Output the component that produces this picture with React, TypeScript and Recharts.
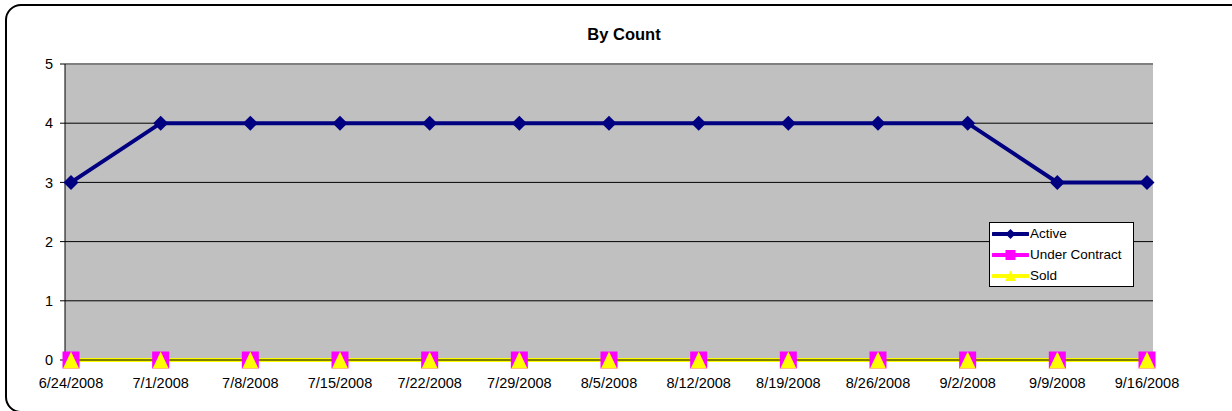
import React from 'react';
import {
  LineChart, Line, XAxis, YAxis, CartesianGrid, ReferenceLine,
} from 'recharts';

const dates = [
  '6/24/2008', '7/1/2008', '7/8/2008', '7/15/2008', '7/22/2008', '7/29/2008',
  '8/5/2008', '8/12/2008', '8/19/2008', '8/26/2008', '9/2/2008', '9/9/2008', '9/16/2008',
];
const active = [3, 4, 4, 4, 4, 4, 4, 4, 4, 4, 4, 3, 3];
const underContract = [0, 0, 0, 0, 0, 0, 0, 0, 0, 0, 0, 0, 0];
const sold = [0, 0, 0, 0, 0, 0, 0, 0, 0, 0, 0, 0, 0];
const yTicks = [0, 1, 2, 3, 4, 5];

const data = dates.map((d, i) => ({
  date: d,
  active: active[i],
  underContract: underContract[i],
  sold: sold[i],
}));

const FONT = '"Liberation Sans", Arial, sans-serif';

const Diamond = (props: any) => {
  const { cx, cy, fill } = props;
  if (cx == null || cy == null) return null;
  const r = 7.5;
  return <path d={`M${cx},${cy - r}L${cx + r},${cy}L${cx},${cy + r}L${cx - r},${cy}Z`} fill={fill} />;
};
const Square = (props: any) => {
  const { cx, cy, fill } = props;
  if (cx == null || cy == null) return null;
  const r = 8.5;
  return <rect x={cx - r} y={cy - r} width={2 * r} height={2 * r} fill={fill} />;
};
const Triangle = (props: any) => {
  const { cx, cy, fill } = props;
  if (cx == null || cy == null) return null;
  const r = 8.5;
  return <path d={`M${cx},${cy - r}L${cx + r - 0.5},${cy + r}L${cx - r + 0.5},${cy + r}Z`} fill={fill} />;
};

const legendItems = [
  { label: 'Active', color: '#000080', shape: 'diamond' },
  { label: 'Under Contract', color: '#FF00FF', shape: 'square' },
  { label: 'Sold', color: '#FFFF00', shape: 'triangle' },
];

const LegendBox = () => (
  <div
    style={{
      position: 'absolute', left: 989, top: 222,
      width: 143,
      height: 63,
      border: '1px solid #000',
      background: '#fff',
      fontFamily: FONT,
      fontSize: 13.5,
      color: '#000',
      boxSizing: 'content-box',
    }}
  >
    {legendItems.map((it) => (
      <div key={it.label} style={{ display: 'flex', alignItems: 'center', height: 21, marginLeft: 2 }}>
        <svg width={37} height={14} style={{ display: 'block' }}>
          <line x1={1} y1={7} x2={36} y2={7} stroke={it.color} strokeWidth={4} strokeLinecap="round" />
          {it.shape === 'diamond' && <path d="M18.5,2L23.5,7L18.5,12L13.5,7Z" fill={it.color} />}
          {it.shape === 'square' && <rect x={13.5} y={2} width={10} height={10} fill={it.color} />}
          {it.shape === 'triangle' && <path d="M18.5,1.5L24,12L13,12Z" fill={it.color} />}
        </svg>
        <span style={{ marginLeft: 1, lineHeight: '21px' }}>{it.label}</span>
      </div>
    ))}
  </div>
);

export default function App() {
  return (
    <div style={{ position: 'absolute', left: 0, top: 0, width: 1232, height: 411, overflow: 'hidden', background: '#fff' }}>
      <div
        style={{
          position: 'absolute', left: 5, top: 4, width: 1260, height: 409,
          border: '2px solid #000', borderRadius: 16, boxSizing: 'border-box',
        }}
      />
      <div
        style={{
          position: 'absolute', left: 0, width: 1248, top: 25, textAlign: 'center',
          fontFamily: FONT, fontWeight: 'bold', fontSize: 16.5, color: '#000',
        }}
      >
        By Count
      </div>
      <div style={{ position: 'absolute', left: 0, top: 0 }}>
        <LineChart
          width={1232}
          height={411}
          data={data}
          margin={{ top: 64, right: 79, bottom: 21, left: 0 }}
        >
          <CartesianGrid vertical={false} stroke="#000" strokeWidth={1} fill="#C0C0C0" fillOpacity={1} />
          <XAxis
            dataKey="date"
            padding={{ left: 6, right: 6 }}
            axisLine={{ stroke: '#000' }}
            tickLine={false}
            tickSize={6}
            tickMargin={12}
            height={30}
            interval={0}
            tick={{ fill: '#000', fontSize: 14.5, fontFamily: FONT }}
          />
          <YAxis
            domain={[0, 5]}
            ticks={yTicks}
            width={65}
            axisLine={{ stroke: '#000' }}
            tickLine={{ stroke: '#000' }}
            tickSize={5}
            tickMargin={7}
            tick={{ fill: '#000', fontSize: 14.5, fontFamily: FONT }}
          />
          <YAxis
            yAxisId="r"
            orientation="right"
            domain={[0, 5]}
            width={0}
            tick={false}
            tickLine={false}
            axisLine={{ stroke: '#808080', strokeWidth: 2 }}
          />
          <ReferenceLine y={5} stroke="#808080" strokeWidth={2} />
          <Line
            dataKey="sold"
            stroke="#FFFF00"
            strokeWidth={4}
            dot={false}
            isAnimationActive={false}
          />
          <Line
            dataKey="underContract"
            stroke="#FF00FF"
            strokeWidth={4}
            dot={<Square fill="#FF00FF" />}
            activeDot={false}
            isAnimationActive={false}
          />
          <Line
            dataKey="sold"
            stroke="#FFFF00"
            strokeWidth={4}
            dot={<Triangle fill="#FFFF00" />}
            activeDot={false}
            isAnimationActive={false}
          />
          <Line
            dataKey="active"
            stroke="#000080"
            strokeWidth={4}
            dot={<Diamond fill="#000080" />}
            activeDot={false}
            isAnimationActive={false}
          />
        </LineChart>
      </div>
      <LegendBox />
    </div>
  );
}
